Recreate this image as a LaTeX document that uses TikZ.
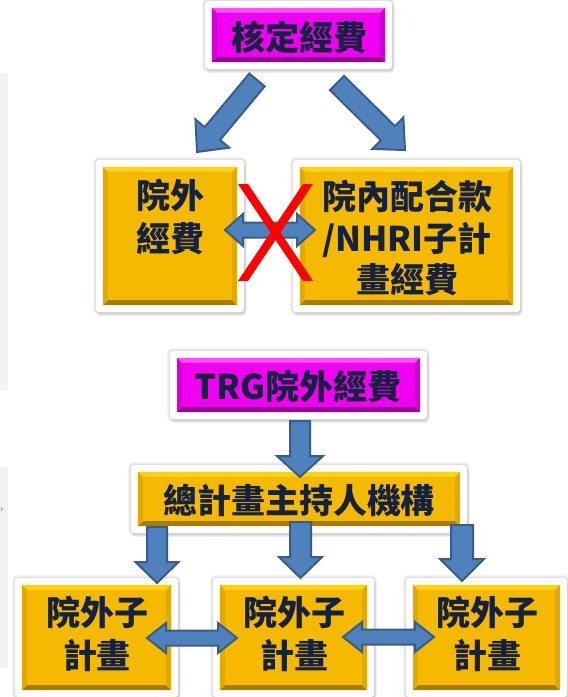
\documentclass[tikz,border=0pt]{standalone}
\usepackage{fontspec}
\setmainfont{Noto Sans CJK TC}
\usetikzlibrary{calc,shadows}
\definecolor{txtc}{HTML}{14213F}
\definecolor{ylmain}{HTML}{F5BA00}
\definecolor{yllight}{HTML}{FFD21A}
\definecolor{yldark}{HTML}{A87C00}
\definecolor{ylside}{HTML}{E2AA00}
\definecolor{mgmain}{HTML}{F000F0}
\definecolor{mglight}{HTML}{FF4DFF}
\definecolor{mgdark}{HTML}{9A009A}
\definecolor{mgside}{HTML}{D000D0}
\definecolor{arrfill}{HTML}{4F81BD}
\definecolor{arrline}{HTML}{385D8A}
\definecolor{xred}{HTML}{FF0000}
\newcommand\bevelbox[2]{%
  \fill[#2main] let \p1=($(#1.north west)+(7,7)$), \p2=($(#1.south east)+(-7,-7)$) in (\x1,\y1) rectangle (\x2,\y2);
  \fill[#2light] let \p1=($(#1.north west)+(7,7)$), \p2=($(#1.south east)+(-7,-7)$) in (\x1,\y1) -- (\x2,\y1) -- ({\x2-5pt},{\y1-5pt}) -- ({\x1+5pt},{\y1-5pt}) -- cycle;
  \fill[#2dark] let \p1=($(#1.north west)+(7,7)$), \p2=($(#1.south east)+(-7,-7)$) in (\x1,\y2) -- (\x2,\y2) -- ({\x2-5pt},{\y2+5pt}) -- ({\x1+5pt},{\y2+5pt}) -- cycle;
  \fill[#2side] let \p1=($(#1.north west)+(7,7)$), \p2=($(#1.south east)+(-7,-7)$) in (\x1,\y1) -- ({\x1+5pt},{\y1-5pt}) -- ({\x1+5pt},{\y2+5pt}) -- (\x1,\y2) -- cycle;
  \fill[#2side] let \p1=($(#1.north west)+(7,7)$), \p2=($(#1.south east)+(-7,-7)$) in (\x2,\y1) -- ({\x2-5pt},{\y1-5pt}) -- ({\x2-5pt},{\y2+5pt}) -- (\x2,\y2) -- cycle;
}
\tikzset{
  frame/.style={fill=white, rounded corners=3pt, inner sep=0pt, draw=none,
    preaction={draw=black, draw opacity=0.05, line width=6pt},
    preaction={draw=black, draw opacity=0.07, line width=3pt},
    drop shadow={opacity=0.18, shadow xshift=1.5pt, shadow yshift=-3.5pt}},
  lbl/.style={font=\fontsize{34}{40}\selectfont\bfseries, text=txtc, inner sep=0pt, anchor=base},
  arrowbody/.style={fill=arrfill, draw=arrline, line width=2pt, line join=miter},
  pics/barrow/.style args={#1/#2/#3/#4}{code={\draw[arrowbody] (0,-#2) -- ({#1-#4},-#2) -- ({#1-#4},-#3) -- (#1,0) -- ({#1-#4},#3) -- ({#1-#4},#2) -- (0,#2) -- cycle;}},
  pics/darrow/.style args={#1/#2/#3/#4}{code={\draw[arrowbody] (0,0) -- (#4,-#3) -- (#4,-#2) -- ({#1-#4},-#2) -- ({#1-#4},-#3) -- (#1,0) -- ({#1-#4},#3) -- ({#1-#4},#2) -- (#4,#2) -- (#4,#3) -- cycle;}},
}
\begin{document}
\begin{tikzpicture}[x=1pt,y=-1pt]
\useasboundingbox (0,0) rectangle (568,697);
\fill[white] (0,0) rectangle (568,697);
% background slivers at left edge
\fill[black!5] (0,73) rectangle (8,390);
\fill[black!5] (0,467) rectangle (8,668);
\node[font=\fontsize{9}{9}\selectfont, text=black!70, inner sep=0pt] (cm) at (2,510) {,};

% frames
\node[frame, minimum width=187, minimum height=68] (top) at (298.5,35) {};
\node[frame, minimum width=148, minimum height=152] (lft) at (170,236) {};
\node[frame, minimum width=227, minimum height=152] (rgt) at (406.5,236) {};
\node[frame, minimum width=257, minimum height=68] (trg) at (298.5,385) {};
\node[frame, minimum width=336, minimum height=68] (pi) at (299,499) {};
\node[frame, minimum width=163, minimum height=119] (s1) at (96.5,637.5) {};
\node[frame, minimum width=161, minimum height=119] (s2) at (293.5,637.5) {};
\node[frame, minimum width=161, minimum height=119] (s3) at (486.5,637.5) {};

\bevelbox{top}{mg}
\bevelbox{lft}{yl}
\bevelbox{rgt}{yl}
\bevelbox{trg}{mg}
\bevelbox{pi}{yl}
\bevelbox{s1}{yl}
\bevelbox{s2}{yl}
\bevelbox{s3}{yl}

% texts
\node[lbl] (t0) at (299,50) {核定經費};
\node[lbl] (l1) at (170,208) {院外};
\node[lbl] (l2) at (170,251) {經費};
\node[lbl] (r1) at (407,209) {院內配合款};
\node[lbl] (r2) at (407,251) {/NHRI子計};
\node[lbl] (r3) at (407,292) {畫經費};
\node[lbl] (tt) at (298,399) {TRG院外經費};
\node[lbl] (pt) at (299,513) {總計畫主持人機構};
\node[lbl] (a1) at (97,625) {院外子};
\node[lbl] (a2) at (97,668) {計畫};
\node[lbl] (b1) at (294,625) {院外子};
\node[lbl] (b2) at (294,668) {計畫};
\node[lbl] (c1) at (487,625) {院外子};
\node[lbl] (c2) at (487,668) {計畫};

% block arrows
\pic[rotate=-129.8] at (257,80) {barrow=93.7/10/22/24};
\pic[rotate=-44.6] at (337,83) {barrow=95.5/10/22/24};
\pic[rotate=-90] at (300,421) {barrow=56/10/23/21};
\pic[rotate=-90] at (157,527) {barrow=56/10/21.5/21};
\pic[rotate=-90] at (300.5,522) {barrow=56/10.5/21.5/21};
\pic[rotate=-90] at (462,525) {barrow=56/11/22/22};

% double arrows
\pic at (225,230) {darrow=90/7.5/16/18};
\pic at (147,638) {darrow=90/7.5/15/19};
\pic at (343,637) {darrow=91/7.5/15/19};

% red cross
\fill[xred] (238,184) -- (248,184) -- (313,281) -- (303,281) -- cycle;
\fill[xred] (303,184) -- (313,184) -- (248,281) -- (238,281) -- cycle;
\end{tikzpicture}
\end{document}
